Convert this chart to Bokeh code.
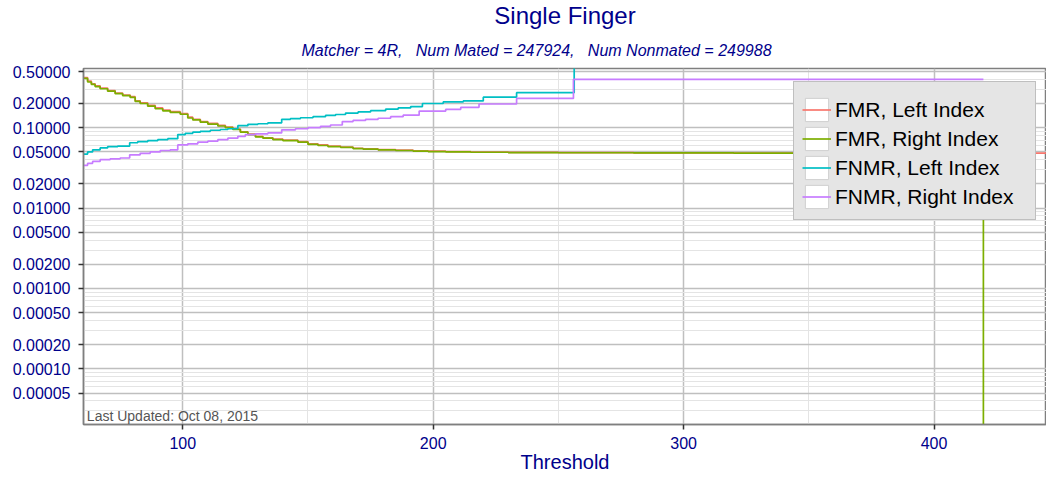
from bokeh.plotting import figure
from bokeh.models import (Range1d, FixedTicker, PrintfTickFormatter, Legend,
                          LegendItem, Label, Title)
from bokeh.embed import file_html
from bokeh.resources import INLINE

# ---------------- data ----------------
fmr_thr = [60.4, 62, 63.5, 65, 67, 70, 73, 76, 79, 81, 83, 86, 89, 92, 95, 99,
           102, 104, 107, 110, 114, 117, 120, 123, 126, 129, 132, 136, 140, 146,
           150, 154, 158, 163, 168, 172, 178, 185, 192, 198, 205, 215, 230, 250,
           280, 320, 380]
fmr_right = [0.41, 0.37, 0.345, 0.325, 0.305, 0.285, 0.265, 0.25, 0.238, 0.212,
             0.2, 0.185, 0.172, 0.162, 0.155, 0.147, 0.132, 0.125, 0.117, 0.111,
             0.105, 0.1, 0.095, 0.088, 0.082, 0.077, 0.074, 0.071, 0.069, 0.066,
             0.062, 0.06, 0.058, 0.057, 0.055, 0.054, 0.053, 0.052, 0.051, 0.0505,
             0.05, 0.0495, 0.049, 0.0488, 0.0485, 0.0482, 0.048]
fmr_left = [0.42, 0.38, 0.352, 0.332, 0.311, 0.29, 0.27, 0.255, 0.243, 0.216,
            0.204, 0.189, 0.176, 0.165, 0.158, 0.15, 0.135, 0.127, 0.119, 0.113,
            0.107, 0.102, 0.096, 0.089, 0.083, 0.078, 0.075, 0.072, 0.07, 0.067,
            0.063, 0.061, 0.059, 0.0575, 0.0555, 0.0545, 0.0535, 0.0525, 0.0515,
            0.051, 0.0505, 0.0498, 0.0492, 0.049, 0.0487, 0.0484, 0.0482]
fmr_right_end = [419.7, 1e-12]
fmr_left_end = [450, 0.0482]

fnmr_left_thr = [60.4, 62, 64, 67, 70, 74, 78.8, 82, 86, 90, 94, 98, 101, 104,
                 107, 111, 115, 118, 122, 126, 130, 134, 139.5, 143, 147, 152,
                 157, 161, 165, 170, 175, 181, 186, 191, 195.7, 204, 212, 220,
                 233.3, 256.3, 419.7]
fnmr_left = [0.047, 0.05, 0.053, 0.056, 0.058, 0.059, 0.065, 0.067, 0.069, 0.071,
             0.073, 0.082, 0.085, 0.088, 0.09, 0.093, 0.095, 0.097, 0.106, 0.11,
             0.112, 0.115, 0.127, 0.13, 0.133, 0.137, 0.142, 0.146, 0.152, 0.157,
             0.163, 0.17, 0.176, 0.183, 0.2, 0.209, 0.215, 0.24, 0.273, 1.0, 1.0]

fnmr_right_thr = [60.4, 62, 64, 67, 71, 75, 78.8, 83, 87, 91, 95, 98, 102, 106,
                  110, 114, 118, 122, 125, 129, 134, 139.5, 145, 150, 155, 159,
                  163.7, 168, 173, 178, 183, 188, 194.4, 205, 211, 218.3, 233.3,
                  256, 419.7]
fnmr_right = [0.034, 0.036, 0.038, 0.04, 0.041, 0.042, 0.046, 0.048, 0.05, 0.052,
              0.053, 0.061, 0.063, 0.066, 0.068, 0.071, 0.074, 0.078, 0.082,
              0.084, 0.086, 0.094, 0.097, 0.1, 0.104, 0.108, 0.119, 0.123, 0.127,
              0.131, 0.137, 0.143, 0.161, 0.169, 0.179, 0.197, 0.231, 0.40, 0.40]

series_names = ["FMR, Left Index", "FMR, Right Index", "FNMR, Left Index",
                "FNMR, Right Index"]
series_colors = ["#F8766D", "#7CAE00", "#00BFC4", "#C77CFF"]

x_ticks = [100, 200, 300, 400]
x_minor = [150, 250, 350]
y_ticks = [0.00005, 0.0001, 0.0002, 0.0005, 0.001, 0.002, 0.005, 0.01, 0.02,
           0.05, 0.1, 0.2, 0.5]
y_minor = [m * 10.0 ** k for k in range(-5, 1) for m in range(1, 10)
           if not any(abs(m * 10.0 ** k - t) < 1e-12 for t in y_ticks)]

NBSP3 = "\u00a0\u00a0\u00a0"
title_text = "Single Finger"
subtitle_text = ("Matcher = 4R," + NBSP3 + "Num Mated = 247924," + NBSP3 +
                 "Num Nonmated = 249988")
xlabel = "Threshold"
footnote = "Last Updated: Oct 08, 2015"

# ---------------- figure ----------------
FONT = "Liberation Sans"
BLUE = "#00008B"

p = figure(width=1046, height=477, x_range=Range1d(60.36, 444.9),
           y_range=Range1d(2.03e-5, 0.545), y_axis_type="log",
           output_backend="svg", toolbar_location=None,
           min_border_left=83, min_border_right=0, min_border_top=67,
           min_border_bottom=53)

p.background_fill_color = "white"
p.border_fill_color = "white"
p.outline_line_color = "#7f7f7f"
p.outline_line_width = 1.5

# titles (first added = closest to the frame)
p.add_layout(Title(text=subtitle_text, align="left", offset=218,
                   text_font=FONT, text_font_size="16px",
                   text_font_style="italic", text_color=BLUE, standoff=20), "above")
p.add_layout(Title(text=title_text, align="center", text_font=FONT,
                   text_font_size="24px", text_font_style="normal",
                   vertical_align="middle", text_color=BLUE, standoff=0), "above")

# axes
xt = FixedTicker(ticks=x_ticks, minor_ticks=x_minor)
yt = FixedTicker(ticks=y_ticks, minor_ticks=y_minor)
p.xaxis.ticker = xt
p.yaxis.ticker = yt
p.xgrid.ticker = xt
p.ygrid.ticker = yt
p.yaxis.formatter = PrintfTickFormatter(format="%.5f")

for ax in (p.xaxis, p.yaxis):
    ax.axis_line_color = "#7f7f7f"
    ax.axis_line_width = 1.5
    ax.major_tick_line_color = "#333333"
    ax.major_tick_line_width = 1.5
    ax.major_tick_out = 5
    ax.major_tick_in = 0
    ax.minor_tick_line_color = None
    ax.major_label_text_font = FONT
    ax.major_label_text_font_size = "16px"
    ax.major_label_text_color = BLUE

p.yaxis.major_label_standoff = 8
p.xaxis.major_label_standoff = 7
p.xaxis.axis_label = xlabel
p.xaxis.axis_label_text_font = FONT
p.xaxis.axis_label_text_font_size = "20px"
p.xaxis.axis_label_text_font_style = "normal"
p.xaxis.axis_label_text_color = BLUE
p.xaxis.axis_label_standoff = -1

for g in (p.xgrid, p.ygrid):
    g.grid_line_color = "#bfbfbf"
    g.grid_line_width = 1.5
    g.minor_grid_line_color = "#e4e4e4"
    g.minor_grid_line_width = 1

# ---------------- series ----------------
r_fmr_l = p.step(fmr_thr + [fmr_left_end[0]], fmr_left + [fmr_left_end[1]],
                 mode="after", line_color=series_colors[0], line_width=1.7)
r_fmr_r = p.step(fmr_thr + [fmr_right_end[0]], fmr_right + [fmr_right_end[1]],
                 mode="after", line_color=series_colors[1], line_width=1.7)
r_fnmr_l = p.step(fnmr_left_thr, fnmr_left, mode="after",
                  line_color=series_colors[2], line_width=1.7)
r_fnmr_r = p.step(fnmr_right_thr, fnmr_right, mode="after",
                  line_color=series_colors[3], line_width=1.7)

# white key boxes for the legend (helper glyph kept outside the visible x range)
key_box = p.quad(top=[0.5], bottom=[0.1], left=[0], right=[1], fill_color="white",
                 line_color="#d0d0d0", line_width=1)

renderers = [r_fmr_l, r_fmr_r, r_fnmr_l, r_fnmr_r]
items = [LegendItem(label=n, renderers=[key_box, r])
         for n, r in zip(series_names, renderers)]
legend = Legend(items=items, location=(710, 204), orientation="vertical",
                label_text_font=FONT, label_text_font_size="21px",
                label_text_color="black", label_height=29, label_width=192,
                glyph_height=29, glyph_width=29, label_standoff=4, spacing=0,
                padding=8, margin=0, title=" ", title_text_font_size="4px",
                title_standoff=0,
                background_fill_color="#e5e5e5", background_fill_alpha=1.0,
                border_line_color="#999999", border_line_width=1.5)
p.add_layout(legend, "center")

# footnote
p.add_layout(Label(x=61.7, y=2.06e-5, text=footnote, text_font=FONT,
                   text_font_size="14px", text_color="#555555",
                   text_baseline="bottom"))

open("out.html", "w").write(file_html(p, INLINE))
